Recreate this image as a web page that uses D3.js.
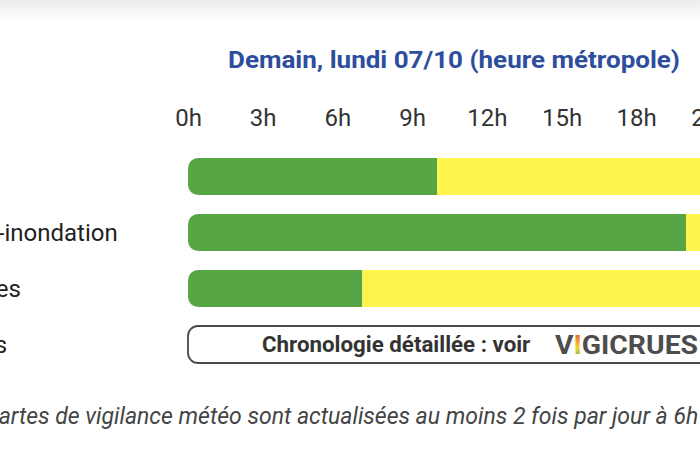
<!DOCTYPE html>
<html>
<head>
<meta charset="utf-8">
<script src="https://cdn.jsdelivr.net/npm/d3@7"></script>
<style>
  html, body { margin: 0; padding: 0; background: #fff; overflow: hidden; }
  svg { display: block; }
</style>
</head>
<body>
<svg id="chart" width="700" height="450"></svg>
<script>
// ---- data ----
const title = "Demain, lundi 07/10 (heure métropole)";
const rows = ["Vent", "Pluie-inondation", "Orages", "Crues"];
const hourTicks = [0, 3, 6, 9, 12, 15, 18, 21];
const segFrom = {
  "Vent": [0, 10],
  "Pluie-inondation": [0, 20],
  "Orages": [0, 7]
};
const segTo = {
  "Vent": [10, 24],
  "Pluie-inondation": [20, 24],
  "Orages": [7, 24]
};
const segLevel = {
  "Vent": ["vert", "jaune"],
  "Pluie-inondation": ["vert", "jaune"],
  "Orages": ["vert", "jaune"]
};
const crueText = "Chronologie détaillée : voir";
const footer = "Les cartes de vigilance météo sont actualisées au moins 2 fois par jour à 6h et 16h.";

const levelColor = { vert: "#57a646", jaune: "#fff44b" };

const svg = d3.select("#chart");
const defs = svg.append("defs");

// top faint shade
const tg = defs.append("linearGradient").attr("id", "topShade").attr("x1", 0).attr("x2", 0).attr("y1", 0).attr("y2", 1);
tg.append("stop").attr("offset", 0).attr("stop-color", "#ececec");
tg.append("stop").attr("offset", 1).attr("stop-color", "#ffffff");
svg.append("rect").attr("x", 0).attr("y", 0).attr("width", 700).attr("height", 22).attr("fill", "url(#topShade)");

// scales
const x = d3.scaleLinear().domain([0, 24]).range([188, 188 + 24 * 24.9]);
const y = d3.scaleBand().domain(rows).range([148.5, 372.5]).paddingInner(19 / 56).paddingOuter(19 / 112);

// title
svg.append("text")
  .attr("x", 454).attr("y", 68)
  .attr("text-anchor", "middle")
  .attr("font-family", "Roboto, sans-serif")
  .attr("font-weight", "bold")
  .attr("font-size", 24)
  .attr("textLength", 452)
  .attr("lengthAdjust", "spacingAndGlyphs")
  .attr("fill", "#2e4e9d")
  .text(title);

// axis
const axis = d3.axisTop(x).tickValues(hourTicks).tickSize(0).tickPadding(0).tickFormat(d => d + "h");
const ag = svg.append("g").attr("transform", "translate(0,126)").call(axis);
ag.select(".domain").remove();
ag.selectAll("text")
  .attr("font-family", "Roboto, sans-serif")
  .attr("font-size", 24)
  .attr("fill", "#333")
  .attr("dy", 0);

// row labels
svg.append("g").selectAll("text").data(rows).join("text")
  .attr("x", -55)
  .attr("y", d => y(d) + y.bandwidth() / 2 + 8)
  .attr("font-family", "Roboto, sans-serif")
  .attr("font-size", 24)
  .attr("fill", "#222")
  .text(d => d);

// bars
const barRows = rows.filter(r => segFrom[r]);
barRows.forEach((r, i) => {
  const cid = "clip" + i;
  defs.append("clipPath").attr("id", cid).append("rect")
    .attr("x", x(0)).attr("y", y(r))
    .attr("width", x(24) - x(0)).attr("height", y.bandwidth())
    .attr("rx", 10).attr("ry", 10);
  const segs = segFrom[r].map((f, k) => ({ from: f, to: segTo[r][k], level: segLevel[r][k] }));
  svg.append("g").attr("clip-path", `url(#${cid})`)
    .selectAll("rect").data(segs).join("rect")
    .attr("x", d => x(d.from))
    .attr("y", y(r))
    .attr("width", d => x(d.to) - x(d.from))
    .attr("height", y.bandwidth())
    .attr("fill", d => levelColor[d.level]);
});

// crues box
const cr = "Crues";
svg.append("rect")
  .attr("x", x(0)).attr("y", y(cr))
  .attr("width", x(24) - x(0)).attr("height", y.bandwidth())
  .attr("rx", 10).attr("ry", 10)
  .attr("fill", "#fff").attr("stroke", "#4a4a4a").attr("stroke-width", 1.8);

svg.append("text")
  .attr("x", 262).attr("y", y(cr) + y.bandwidth() / 2 + 7.5)
  .attr("font-family", "Roboto, sans-serif")
  .attr("font-weight", "bold")
  .attr("font-size", 22.3)
  .attr("fill", "#333")
  .text(crueText);

// vigicrues logo
const lg = defs.append("linearGradient").attr("id", "vigiI").attr("x1", 0).attr("x2", 0).attr("y1", 0).attr("y2", 1);
[["0", "#e53a2c"], ["0.35", "#f39a2b"], ["0.6", "#f2d43a"], ["1", "#5aae47"]].forEach(s =>
  lg.append("stop").attr("offset", s[0]).attr("stop-color", s[1]));
const logoY = y(cr) + y.bandwidth() / 2 + 9;
const logo = svg.append("text")
  .attr("x", 555).attr("y", logoY)
  .attr("font-family", "Roboto, sans-serif")
  .attr("font-weight", "bold")
  .attr("font-size", 25)
  .attr("textLength", 143)
  .attr("lengthAdjust", "spacingAndGlyphs")
  .attr("fill", "#4d4d4d");
logo.append("tspan").text("V");
logo.append("tspan").attr("fill", "url(#vigiI)").text("I");
logo.append("tspan").text("GICRUES");

// footer
svg.append("text")
  .attr("x", -54).attr("y", 424)
  .attr("font-family", "Roboto, sans-serif")
  .attr("font-style", "italic")
  .attr("font-size", 23)
  .attr("fill", "#444")
  .text(footer);
</script>
</body>
</html>
